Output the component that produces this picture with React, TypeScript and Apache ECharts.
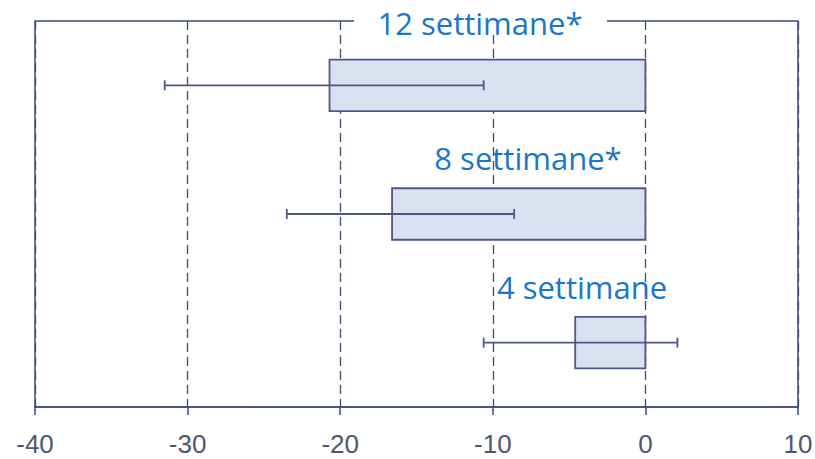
import React, { useEffect, useRef } from "react";
import * as echarts from "echarts";

const categories = ["4 settimane", "8 settimane*", "12 settimane*"];
const barValues = [-4.6, -16.6, -20.7];
const errLow = [-10.6, -23.5, -31.5];
const errHigh = [2.1, -8.6, -10.6];
const xTicks = [-40, -30, -20, -10, 0, 10];

const NAVY = "#3d4b7c";
const LABEL_FONT = "31px 'Open Sans', sans-serif";
const LABEL_COLOR = "#1a76c6";

export default function App() {
  const ref = useRef<HTMLDivElement>(null);
  useEffect(() => {
    if (!ref.current) return;
    const chart = echarts.init(ref.current, null, { renderer: "svg" });
    const data = categories.map((c, i) => [i, barValues[i], errLow[i], errHigh[i]]);
    chart.setOption({
      animation: false,
      backgroundColor: "#ffffff",
      grid: {
        left: 35,
        right: 17,
        top: 21,
        bottom: 52,
        show: true,
        containLabel: false,
        outerBoundsMode: "none",
        borderColor: NAVY,
        borderWidth: 1.5,
        backgroundColor: "transparent",
      },
      xAxis: {
        type: "value",
        min: xTicks[0],
        max: xTicks[xTicks.length - 1],
        interval: 10,
        axisLine: { show: true, lineStyle: { color: NAVY, width: 1.5 } },
        axisTick: { show: true, length: 8, lineStyle: { color: NAVY, width: 1.5 } },
        axisLabel: {
          color: "#4d5870",
          fontSize: 26,
          lineHeight: 26,
          fontFamily: "Liberation Sans, Arial, sans-serif",
          margin: 24,
        },
        splitLine: {
          show: true,
          lineStyle: { color: NAVY, width: 1.3, type: [9, 5] },
        },
      },
      yAxis: {
        type: "category",
        data: categories,
        boundaryGap: true,
        axisLine: { show: false },
        axisTick: { show: false },
        axisLabel: { show: false },
        splitLine: { show: false },
      },
      series: [
        {
          type: "custom",
          encode: { x: [1, 2, 3], y: 0 },
          data,
          renderItem: (params: any, api: any) => {
            const cat = api.value(0);
            const v = api.value(1);
            const lo = api.value(2);
            const hi = api.value(3);
            const p0 = api.coord([0, cat]);
            const pv = api.coord([v, cat]);
            const pl = api.coord([lo, cat]);
            const ph = api.coord([hi, cat]);
            const h = api.size([0, 1])[1] * 0.4;
            const cap = 5;
            return {
              type: "group",
              children: [
                {
                  type: "rect",
                  shape: { x: pv[0], y: p0[1] - h / 2, width: p0[0] - pv[0], height: h },
                  style: { fill: "#dbe0f1", stroke: "#4a5888", lineWidth: 1.8 },
                },
                {
                  type: "line",
                  shape: { x1: pl[0], y1: pl[1], x2: ph[0], y2: ph[1] },
                  style: { stroke: "#4a5888", lineWidth: 1.8 },
                },
                {
                  type: "line",
                  shape: { x1: pl[0], y1: pl[1] - cap, x2: pl[0], y2: pl[1] + cap },
                  style: { stroke: "#4a5888", lineWidth: 1.8 },
                },
                {
                  type: "line",
                  shape: { x1: ph[0], y1: ph[1] - cap, x2: ph[0], y2: ph[1] + cap },
                  style: { stroke: "#4a5888", lineWidth: 1.8 },
                },
              ],
            };
          },
        },
      ],
      graphic: [
        {
          type: "rect",
          z: 100,
          shape: { x: 354, y: 8, width: 253, height: 26 },
          style: { fill: "#ffffff" },
        },
        {
          type: "text",
          z: 101,
          x: 480,
          y: 23,
          style: {
            text: categories[2],
            fill: LABEL_COLOR,
            font: LABEL_FONT,
            textAlign: "center",
            textVerticalAlign: "middle",
          },
        },
        {
          type: "text",
          z: 101,
          x: 528,
          y: 158,
          style: {
            text: categories[1],
            fill: LABEL_COLOR,
            font: LABEL_FONT,
            textAlign: "center",
            textVerticalAlign: "middle",
          },
        },
        {
          type: "text",
          z: 101,
          x: 582,
          y: 287,
          style: {
            text: categories[0],
            fill: LABEL_COLOR,
            font: LABEL_FONT,
            textAlign: "center",
            textVerticalAlign: "middle",
          },
        },
      ],
    });
    return () => chart.dispose();
  }, []);
  return <div ref={ref} style={{ width: 815, height: 459, position: "absolute", left: 0, top: 0 }} />;
}
